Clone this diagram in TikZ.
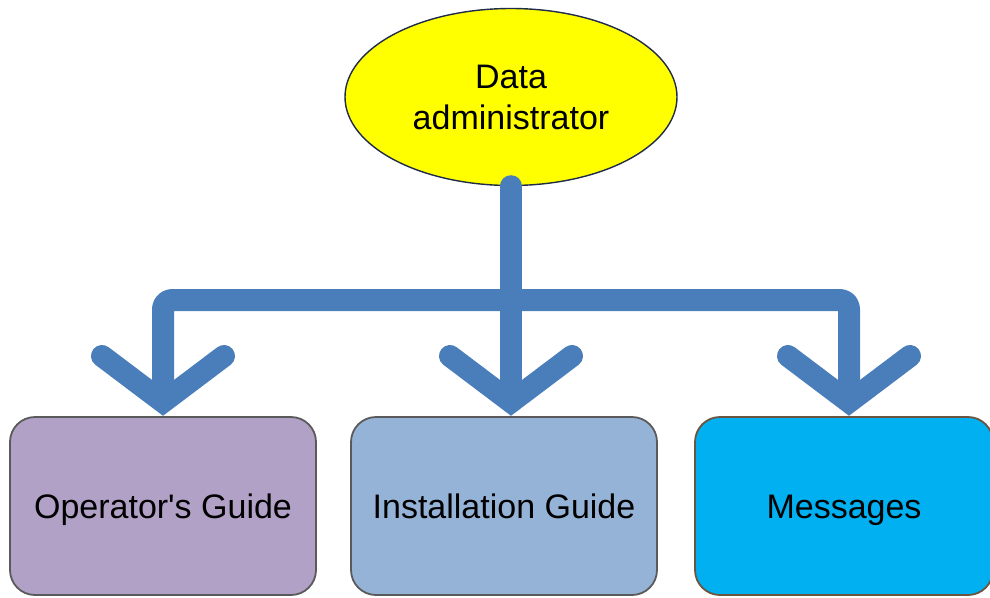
\documentclass[tikz,border=0pt]{standalone}
\usepackage{fontspec}
\setmainfont{Liberation Sans}
\usetikzlibrary{calc,shapes.geometric}
\definecolor{connblue}{HTML}{4A7EBB}
\definecolor{yel}{HTML}{FFFF00}
\definecolor{navy}{HTML}{1F2B4A}
\definecolor{purp}{HTML}{B2A1C7}
\definecolor{lblue}{HTML}{95B3D7}
\definecolor{cyanb}{HTML}{00B0F0}
\definecolor{edgegray}{HTML}{5A5A5A}
\definecolor{edgebrown}{HTML}{6B5540}
\tikzset{
  conn/.style={draw=connblue, line width=22pt, line cap=round, line join=round},
  chev/.style={draw=connblue, line width=22pt, line cap=round, line join=miter},
  boxnode/.style={draw=edgegray, line width=1.8pt, rounded corners=25pt, minimum width=306pt, minimum height=178pt, inner sep=0pt, text height=31pt, text depth=7pt, font=\fontsize{34}{40}\selectfont},
}
\begin{document}
\begin{tikzpicture}[x=1pt,y=-1pt]
\useasboundingbox (0,0) rectangle (990,597);
\node[ellipse, draw=navy, line width=1.4pt, fill=yel, minimum width=332pt, minimum height=177pt, inner sep=0pt, align=center, font=\fontsize{34}{41}\selectfont] (da) at (511,97) {Data\\administrator};
\node[boxnode, fill=purp] (op) at (163,506) {Operator\textquotesingle s Guide};
\node[boxnode, fill=lblue] (ig) at (504,506) {Installation Guide};
\node[boxnode, fill=cyanb, draw=edgebrown, minimum width=298pt] (ms) at (844,506) {Messages};
\coordinate (t1) at (163,402);
\coordinate (t2) at (511,402);
\coordinate (t3) at (849,402);
\coordinate (bus) at (511,300);
% trunk and bus
\draw[conn] (da.south) -- (t2);
\draw[conn, line cap=butt, rounded corners=9pt] (t1) -- (t1 |- bus) -- (t3 |- bus) -- (t3);
% chevrons
\foreach \t in {t1,t2,t3}{
  \draw[chev] ($(\t)+(-61,-46)$) -- (\t) -- ($(\t)+(61,-46)$);
}
\end{tikzpicture}
\end{document}
